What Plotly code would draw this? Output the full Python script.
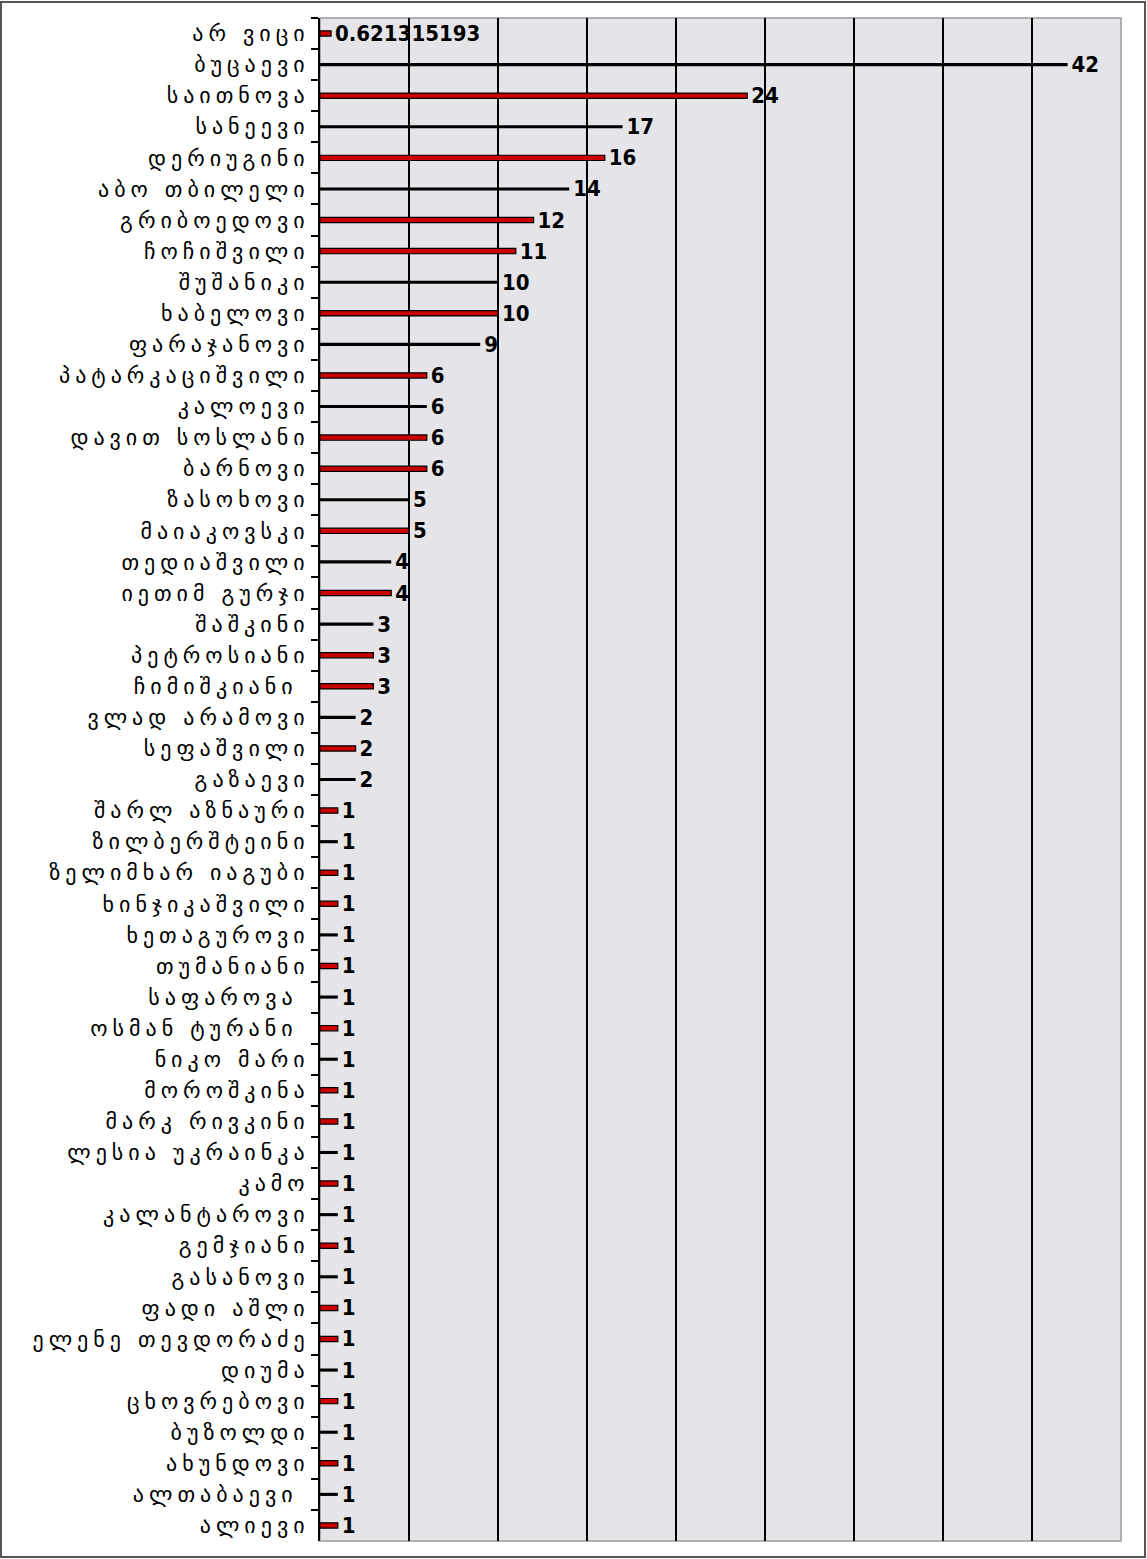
import plotly.graph_objects as go

# names, top to bottom
names = [
    "არ ვიცი", "ბუცაევი", "საითნოვა", "სანეევი", "დერიუგინი", "აბო თბილელი",
    "გრიბოედოვი", "ჩოჩიშვილი", "შუშანიკი", "ხაბელოვი", "ფარაჯანოვი",
    "პატარკაციშვილი", "კალოევი", "დავით სოსლანი", "ბარნოვი", "ზასოხოვი",
    "მაიაკოვსკი", "თედიაშვილი", "იეთიმ გურჯი", "შაშკინი", "პეტროსიანი",
    "ჩიმიშკიანი ", "ვლად არამოვი", "სეფაშვილი", "გაზაევი", "შარლ აზნაური",
    "ზილბერშტეინი", "ზელიმხარ იაგუბი", "ხინჯიკაშვილი", "ხეთაგუროვი",
    "თუმანიანი", "საფაროვა ", "ოსმან ტურანი ", "ნიკო მარი", "მოროშკინა",
    "მარკ რივკინი", "ლესია უკრაინკა", "კამო", "კალანტაროვი", "გემჯიანი",
    "გასანოვი", "ფადი აშლი", "ელენე თევდორაძე", "დიუმა", "ცხოვრებოვი",
    "ბუზოლდი", "ახუნდოვი", "ალთაბაევი ", "ალიევი",
]

# two series: red bars and black bars (None where the name is in the other one)
red_vals = [
    0.621315193, None, 24, None, 16, None, 12, 11, None, 10, None, 6, None, 6, 6,
    None, 5, None, 4, None, 3, 3, None, 2, None, 1, None, 1, 1, None, 1, None, 1,
    None, 1, 1, None, 1, None, 1, None, 1, 1, None, 1, None, 1, None, 1,
]
black_vals = [
    None, 42, None, 17, None, 14, None, None, 10, None, 9, None, 6, None, None,
    5, None, 4, None, 3, None, None, 2, None, 2, None, 1, None, None, 1, None, 1,
    None, 1, None, None, 1, None, 1, None, 1, None, None, 1, None, 1, None, 1, None,
]

label_font = dict(family="DejaVu Sans Condensed", size=22, color="black", weight="bold")

def txt(vals):
    return ["" if v is None else "\u2009" + str(v) for v in vals]

data = [
    go.Bar(
        y=names, x=red_vals, orientation="h", width=0.17,
        marker=dict(color="#cc0000", line=dict(color="black", width=1.2)),
        text=txt(red_vals), textposition="outside", constraintext="none",
        textfont=label_font, cliponaxis=False, name="red",
    ),
    go.Bar(
        y=names, x=black_vals, orientation="h", width=0.1,
        marker=dict(color="black", line=dict(width=0)),
        text=txt(black_vals), textposition="outside", constraintext="none",
        textfont=label_font, cliponaxis=False, name="black",
    ),
]

layout = go.Layout(
    width=1147, height=1559,
    margin=dict(l=320, r=26, t=18, b=18),
    paper_bgcolor="white",
    plot_bgcolor="#e5e5e9",
    barmode="overlay",
    showlegend=False,
    xaxis=dict(range=[0, 45], dtick=5, showticklabels=False, showgrid=True,
               gridcolor="black", gridwidth=1.5, zeroline=False, fixedrange=True),
    yaxis=dict(autorange="reversed", tickson="boundaries", ticks="outside",
               ticklen=7, tickcolor="black", tickwidth=1.5, ticklabelstandoff=4,
               showline=True, linecolor="black", linewidth=2,
               tickfont=dict(family="DejaVu Sans", size=22, color="black"),
               showgrid=False, fixedrange=True),
    shapes=[
        # plot frame
        dict(type="rect", xref="paper", yref="paper", x0=0, x1=1, y0=0, y1=1,
             line=dict(color="#9a9a9a", width=1.5), layer="below"),
        # outer picture border
        dict(type="rect", xref="paper", yref="paper",
             x0=-319 / 801, x1=1 + 24 / 801, y0=-16 / 1523, y1=1 + 16 / 1523,
             line=dict(color="#555555", width=2)),
    ],
)

fig = go.Figure(data=data, layout=layout)
# the original labels are set with wide letter spacing
fig.write_html(
    "out.html",
    config={"displayModeBar": False},
    post_script=(
        "document.body.style.margin='0';"
        "document.querySelectorAll('.ytick text').forEach(function(t){"
        "t.style.letterSpacing='5px';});"
    ),
)
